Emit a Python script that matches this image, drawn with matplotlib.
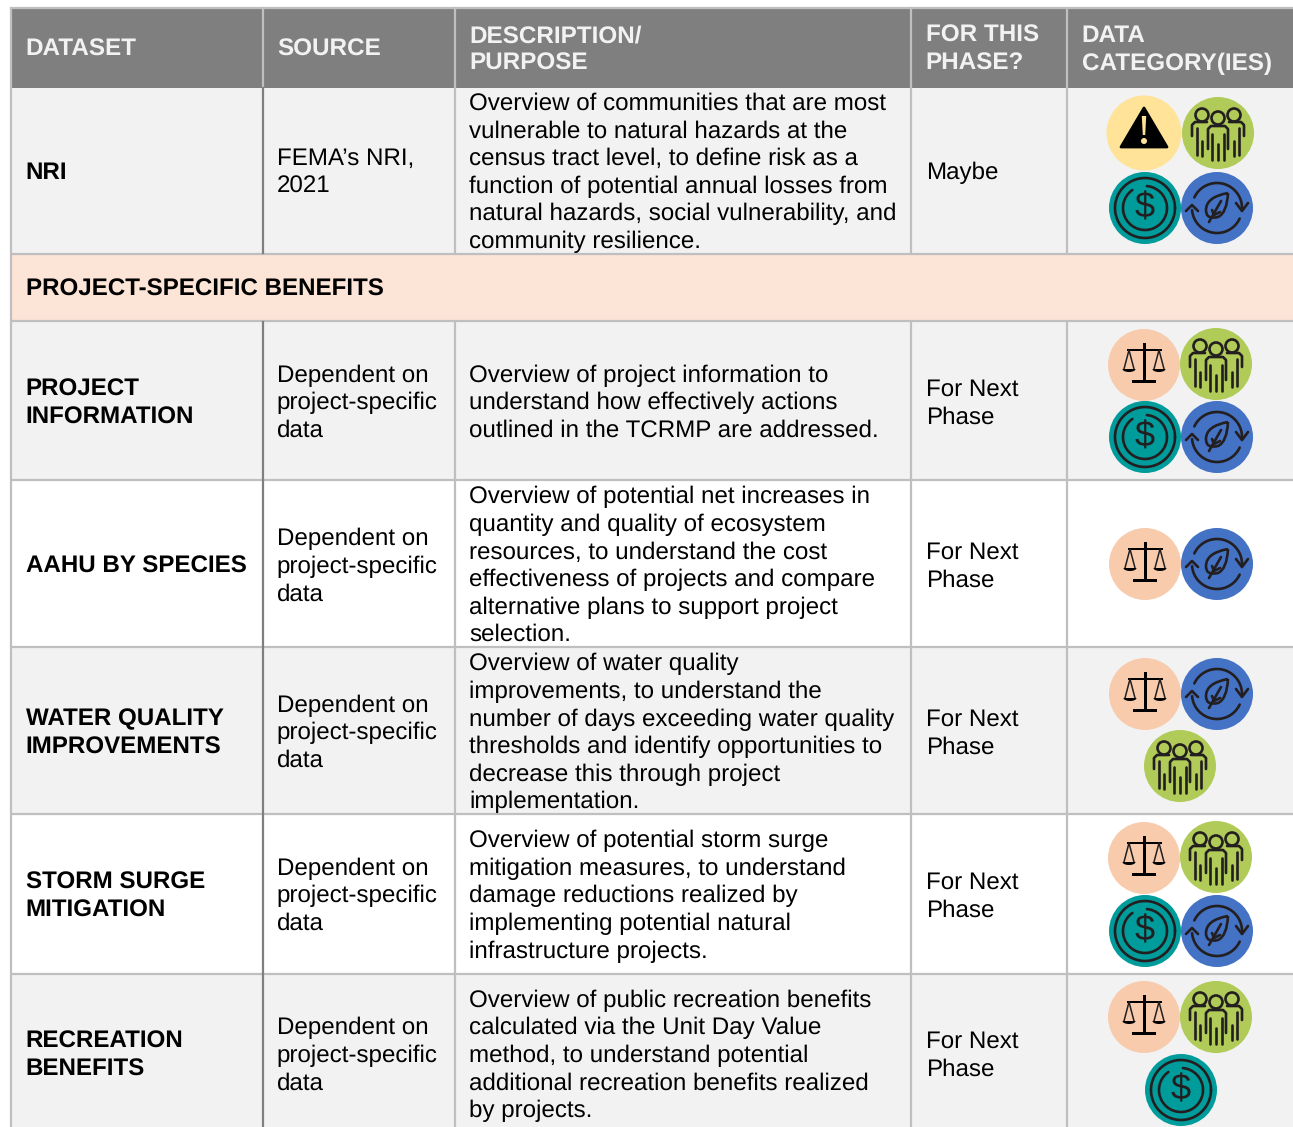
# Dataset table with category icons
import numpy as np
import matplotlib
matplotlib.use('Agg')
import matplotlib.pyplot as plt
from matplotlib.patches import Circle, Rectangle, Polygon, PathPatch
from matplotlib.path import Path

plt.rcParams['font.family'] = ['Liberation Sans', 'DejaVu Sans']
plt.rcParams['text.hinting'] = 'no_hinting'

# table content
headers = [['DATASET'], ['SOURCE'], ['DESCRIPTION/', 'PURPOSE'], ['FOR THIS', 'PHASE?'], ['DATA', 'CATEGORY(IES)']]
band_title = 'PROJECT-SPECIFIC BENEFITS'
datasets = [['NRI'], ['PROJECT', 'INFORMATION'], ['AAHU BY SPECIES'], ['WATER QUALITY', 'IMPROVEMENTS'],
            ['STORM SURGE', 'MITIGATION'], ['RECREATION', 'BENEFITS']]
dep = ['Dependent on', 'project-specific', 'data']
sources = [['FEMA\u2019s NRI,', '2021'], dep, dep, dep, dep, dep]
descriptions = [
    ['Overview of communities that are most', 'vulnerable to natural hazards at the',
     'census tract level, to define risk as a', 'function of potential annual losses from',
     'natural hazards, social vulnerability, and', 'community resilience.'],
    ['Overview of project information to', 'understand how effectively actions',
     'outlined in the TCRMP are addressed.'],
    ['Overview of potential net increases in', 'quantity and quality of ecosystem',
     'resources, to understand the cost', 'effectiveness of projects and compare',
     'alternative plans to support project', 'selection.'],
    ['Overview of water quality', 'improvements, to understand the',
     'number of days exceeding water quality', 'thresholds and identify opportunities to',
     'decrease this through project', 'implementation.'],
    ['Overview of potential storm surge', 'mitigation measures, to understand',
     'damage reductions realized by', 'implementing potential natural',
     'infrastructure projects.'],
    ['Overview of public recreation benefits', 'calculated via the Unit Day Value',
     'method, to understand potential', 'additional recreation benefits realized',
     'by projects.'],
]
next_phase = ['For Next', 'Phase']
phases = [['Maybe'], next_phase, next_phase, next_phase, next_phase, next_phase]
categories = [['hazard', 'people', 'money', 'env'],
              ['justice', 'people', 'money', 'env'],
              ['justice', 'env'],
              ['justice', 'env', 'people'],
              ['justice', 'people', 'money', 'env'],
              ['justice', 'people', 'money']]

# layout in pixels
col_x = [11, 263, 455, 911, 1067, 1293]
text_x = [25.6, 276.8, 469.3, 925.6, 1081.6]
row_y_top = [88, 321, 480, 647, 814, 974]
row_y_bot = [254, 480, 647, 814, 974, 1140]
row_fill = ['#f2f2f2', '#f2f2f2', '#ffffff', '#f2f2f2', '#ffffff', '#f2f2f2']
row_mid = [170.6, 401, 564.5, 731, 894, 1053.5]
desc_mid = [170.6, 401, 563.8, 730.8, 894, 1053.5]
icon_pos = [[(1144, 133), (1218, 133), (1145, 208), (1217, 208)],
            [(1144, 365), (1216, 364), (1145, 437), (1217, 437)],
            [(1145, 564), (1217, 564)],
            [(1145, 694), (1217, 694), (1180, 766)],
            [(1144, 858), (1216, 857), (1145, 931), (1217, 931)],
            [(1144, 1017), (1216, 1017), (1181, 1090)]]

GRID = '#bfbfbf'
DARK = '#231f20'
FS = 17.35
PITCH = 27.55
LW = 1.9

fig = plt.figure(figsize=(12.93, 11.27), dpi=100)
ax = fig.add_axes([0, 0, 1, 1])
ax.set_xlim(0, 1293)
ax.set_ylim(1127, 0)
ax.axis('off')


def put_lines(x, ymid, lines, color='black', weight='normal', pitch=PITCH, size=FS):
    y0 = ymid - pitch * (len(lines) - 1) / 2
    for i, s in enumerate(lines):
        ax.text(x, y0 + i * pitch + 8.5, s, color=color, fontweight=weight, fontsize=size,
                ha='left', va='baseline')


def line(xs, ys, cx, cy, lw=LW):
    ax.plot(cx + np.array(xs), cy + np.array(ys), color=DARK, lw=lw, solid_capstyle='round',
            solid_joinstyle='round', zorder=5)


def arc(cx, cy, r, a1, a2, lw=LW):
    t = np.radians(np.linspace(a1, a2, 60))
    ax.plot(cx + r * np.cos(t), cy + r * np.sin(t), color=DARK, lw=lw, solid_capstyle='round', zorder=5)


def hazard_icon(cx, cy):
    ax.add_patch(Circle((cx, cy), 37.5, fc='#ffe398', ec='none', zorder=3))
    ax.add_patch(Polygon([(cx, cy - 25), (cx + 23, cy + 14), (cx - 23, cy + 14)], closed=True, fc='black',
                         ec='black', lw=2, joinstyle='round', zorder=4))
    ax.add_patch(Polygon([(cx - 2.2, cy - 17), (cx + 2.2, cy - 17), (cx + 1.2, cy + 2), (cx - 1.2, cy + 2)],
                         closed=True, fc='#ffe398', ec='none', zorder=5))
    ax.add_patch(Circle((cx, cy + 8), 3, fc='#ffe398', ec='none', zorder=5))


def people_icon(cx, cy):
    ax.add_patch(Circle((cx, cy), 36, fc='#b0cb57', ec='none', zorder=3))
    for dx, dy in [(-16, -18), (16, -18), (0, -15)]:
        ax.add_patch(Circle((cx + dx, cy + dy), 6.5, fc='none', ec=DARK, lw=LW, zorder=5))
    # side figures
    line([-26, -26, -23, -11], [3, -8, -11, -11], cx, cy)
    line([26, 26, 23, 11], [3, -8, -11, -11], cx, cy)
    line([-21, -21], [-5, 22], cx, cy)
    line([21, 21], [-5, 22], cx, cy)
    line([-16, -16], [8, 23], cx, cy)
    line([16, 16], [8, 23], cx, cy)
    # middle figure
    line([-10, -10, -7, 7, 10, 10], [16, -4, -7, -7, -4, 16], cx, cy)
    line([-6, -6], [1, 27], cx, cy)
    line([6, 6], [1, 27], cx, cy)
    line([0, 0], [11, 27], cx, cy)


def money_icon(cx, cy):
    ax.add_patch(Circle((cx, cy), 36, fc='#009b9b', ec='none', zorder=3))
    arc(cx, cy, 30, 0, 360)
    arc(cx, cy, 22, -85, 235)
    ax.text(cx, cy + 0.5, '$', color=DARK, fontsize=26, ha='center', va='center', zorder=5)


def env_icon(cx, cy):
    ax.add_patch(Circle((cx, cy), 36, fc='#4472c4', ec='none', zorder=3))
    arc(cx, cy, 25, -155, 5)
    arc(cx, cy, 25, 25, 175)
    line([-31, -25, -19], [3, -3, 3], cx, cy)
    line([19, 25, 31], [-5, 3, -5], cx, cy)
    # leaf
    leaf = [(11, -15), (-11, -11), (-11, 2), (-11, 12), (1, 9), (10, 5), (11, -15)]
    codes = [Path.MOVETO, Path.CURVE3, Path.CURVE3, Path.CURVE3, Path.CURVE3, Path.CURVE3, Path.CURVE3]
    verts = [(cx + x, cy + y) for x, y in leaf]
    ax.add_patch(PathPatch(Path(verts, codes), fc='none', ec=DARK, lw=LW, zorder=5))
    line([-8, 4], [14, -7], cx, cy)
    line([-5, -3, 3], [2, 7, 4], cx, cy)


def justice_icon(cx, cy):
    ax.add_patch(Circle((cx, cy), 36, fc='#f8cbad', ec='none', zorder=3))
    ax.add_patch(Rectangle((cx - 1.5, cy - 22), 3, 38, fc='black', ec='none', zorder=5))
    ax.add_patch(Rectangle((cx - 12, cy + 15), 24, 3.2, fc='black', ec='none', zorder=5))
    ax.add_patch(Rectangle((cx - 17.5, cy - 16.5), 35, 2.2, fc='black', ec='none', zorder=5))
    for d in (-15, 15):
        line([d - 5, d, d + 5], [4, -15, 4], cx, cy, lw=1.1)
        t = np.radians(np.linspace(0, 180, 30))
        ax.fill(cx + d + 6.5 * np.cos(t), cy + 4 + 3 * np.sin(t), color='black', lw=0, zorder=5)


icon_funcs = {'hazard': hazard_icon, 'people': people_icon, 'money': money_icon,
              'env': env_icon, 'justice': justice_icon}

# header
ax.add_patch(Rectangle((col_x[0], 8), 1293 - col_x[0], 80, fc='#7f7f7f', ec='none', zorder=1))
for x, h in zip(text_x, headers):
    put_lines(x, 47.5, h, color='#f2f2f2', weight='bold', size=17.45)

# rows
for i in range(len(datasets)):
    ax.add_patch(Rectangle((col_x[0], row_y_top[i]), 1293 - col_x[0], row_y_bot[i] - row_y_top[i],
                           fc=row_fill[i], ec='none', zorder=1))
    put_lines(text_x[0], row_mid[i], datasets[i], weight='bold')
    put_lines(text_x[1], row_mid[i], sources[i])
    put_lines(text_x[2], desc_mid[i], descriptions[i])
    put_lines(text_x[3], row_mid[i], phases[i])
    for name, (cx, cy) in zip(categories[i], icon_pos[i]):
        icon_funcs[name](cx, cy)

# band row
ax.add_patch(Rectangle((col_x[0], 254), 1293 - col_x[0], 67, fc='#fce4d6', ec='none', zorder=1))
put_lines(text_x[0], 287.5, [band_title], weight='bold')

# grid lines
for y in [8, 254, 321, 480, 647, 814, 974]:
    ax.plot([col_x[0], 1293], [y, y], color=GRID, lw=1.6, zorder=2, solid_capstyle='butt')
ax.plot([col_x[0], col_x[0]], [8, 1127], color=GRID, lw=1.6, zorder=2)
for x in col_x[1:5]:
    ax.plot([x, x], [8, 88], color=GRID, lw=1.6, zorder=2)
    for y0, y1 in [(88, 253), (322, 1127)]:
        ax.plot([x, x], [y0, y1], color='#7f7f7f' if x == 263 else GRID, lw=1.6, zorder=2)

fig.savefig('out.png', dpi=100)
